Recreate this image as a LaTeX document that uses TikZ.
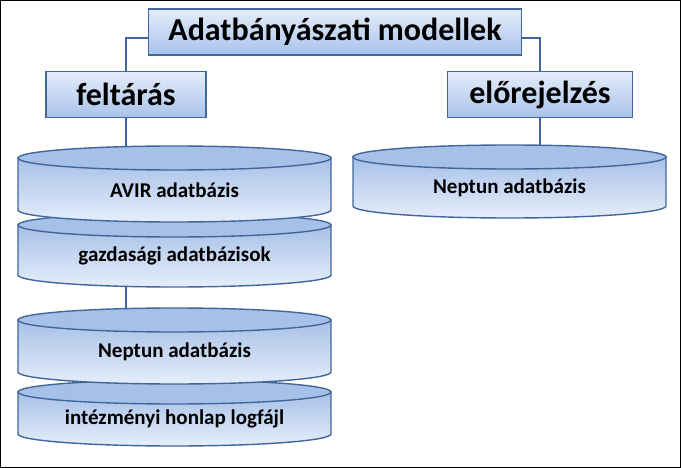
\documentclass[tikz,border=0pt]{standalone}
\usepackage{fontspec}
\setmainfont{Carlito}
\definecolor{edge}{HTML}{41679A}
\definecolor{bluetop}{HTML}{E4ECF9}
\definecolor{bluebot}{HTML}{A9C3EB}
\definecolor{cyldark}{HTML}{A7C0E8}
\definecolor{cyllight}{HTML}{E6EEFA}
\tikzset{
  boxnode/.style={draw=edge,line width=1.4pt,top color=bluetop,bottom color=bluebot,
    minimum height=46pt,inner sep=0pt,font=\bfseries\fontsize{32}{36}\selectfont},
  conn/.style={draw=edge,line width=1.4pt},
  cyltext/.style={font=\bfseries\fontsize{21}{24}\selectfont,inner sep=0pt}
}
% \mycyl{x1}{x2}{yc top}{yc bottom}{name}{text}
\newcommand\mycyl[6]{%
  \pgfmathsetmacro\rx{(#2-#1)/2}%
  \pgfmathsetmacro\cx{(#2+#1)/2}%
  \path[draw=edge,line width=1.4pt,top color=cyldark,bottom color=cyllight]
    (#1,#3) -- (#1,#4) arc[start angle=180,end angle=0,x radius=\rx,y radius=12] -- (#2,#3) -- cycle;
  \path[draw=edge,line width=1.4pt,fill=cyldark]
    (\cx,#3) ellipse[x radius=\rx,y radius=12];
  \coordinate (#5-top) at (\cx,#3-12);
  \coordinate (#5-bot) at (\cx,#4+12);
  \node[cyltext] (#5) at (\cx,{(#3+#4)/2+6}) {#6};
}
\begin{document}
\begin{tikzpicture}[x=1pt,y=-1pt]
\useasboundingbox (0,0) rectangle (681,468);
\draw[black,line width=1pt] (0.5,0.5) rectangle (680.5,467.5);
\node[boxnode,minimum width=373pt] (top) at (335,32) {Adatbányászati modellek};
\node[boxnode,minimum width=160pt] (felt) at (126,94.5) {feltárás};
\node[boxnode,minimum width=185pt] (elo) at (540,94.5) {előrejelzés};
\mycyl{18}{331}{392}{434}{log}{intézményi honlap logfájl}
\mycyl{18}{331}{320}{372}{nep}{Neptun adatbázis}
\mycyl{18}{331}{225}{275}{gazd}{gazdasági adatbázisok}
\mycyl{18}{331}{158}{210}{avir}{AVIR adatbázis}
\mycyl{353}{666}{157}{206}{nep2}{Neptun adatbázis}
\draw[conn] ([yshift=-6pt]top.west) -| (felt.north);
\draw[conn] ([yshift=-6pt]top.east) -| (elo.north);
\draw[conn] (felt.south) -- (felt.south |- avir-top);
\draw[conn] (elo.south) -- (elo.south |- nep2-top);
\draw[conn] (felt.south |- gazd-bot) -- (felt.south |- nep-top);
\end{tikzpicture}
\end{document}
